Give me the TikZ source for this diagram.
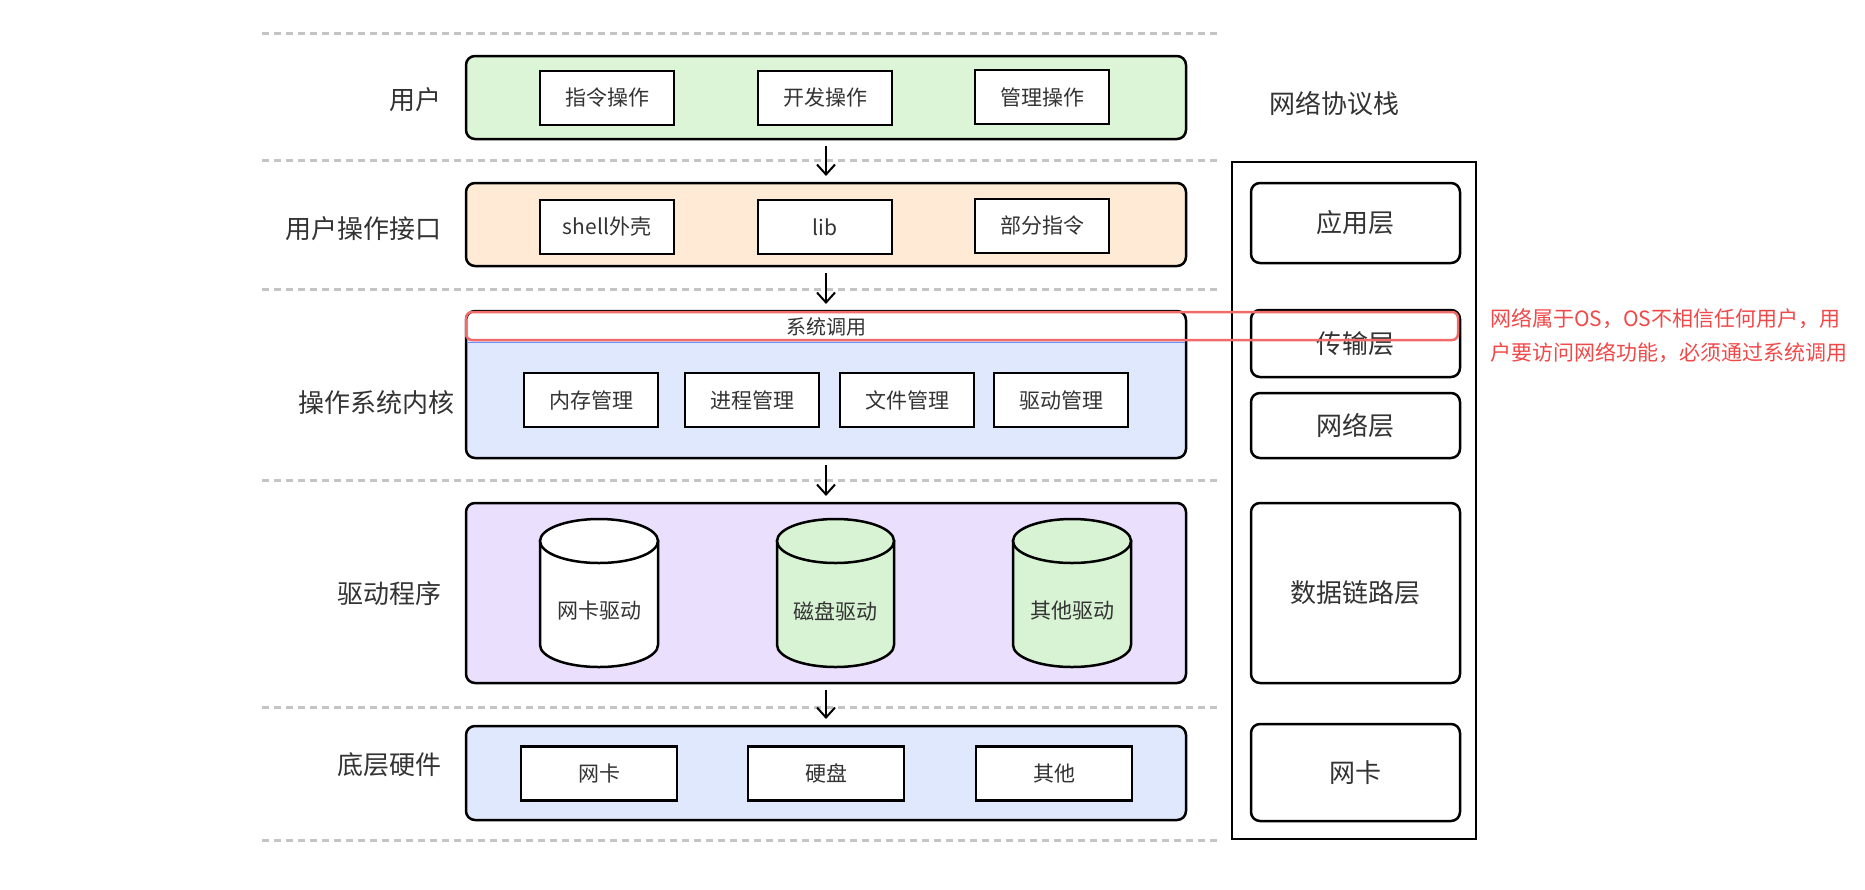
\documentclass[tikz,border=0pt]{standalone}
\usepackage{fontspec}
\setmainfont{Noto Sans CJK SC}
\usetikzlibrary{arrows.meta}
\definecolor{usergreen}{HTML}{DBF5D6}
\definecolor{ifaceorange}{HTML}{FEEAD5}
\definecolor{kernelblue}{HTML}{E0E8FD}
\definecolor{drvpurple}{HTML}{EADFFC}
\definecolor{cylgreen}{HTML}{D8F3D3}
\definecolor{textgray}{HTML}{333333}
\definecolor{rulegray}{HTML}{C4C4C4}
\definecolor{notered}{HTML}{F04848}
\definecolor{markred}{HTML}{F26B6B}
\definecolor{selblue}{HTML}{6C8EF5}
\begin{document}
\begin{tikzpicture}[x=1pt,y=-1pt,
  layerbox/.style={draw=black, line width=2.5pt, rounded corners=9pt, minimum width=720pt, inner sep=0pt, outer sep=0pt},
  inbox/.style={draw=black, fill=white, line width=2.5pt, inner sep=0pt, outer sep=0pt, minimum height=54pt, minimum width=134pt, font=\fontsize{21}{24}\selectfont, text=textgray},
  lbl/.style={anchor=east, inner sep=0pt, font=\fontsize{26}{30}\selectfont, text=textgray},
  stackbox/.style={draw=black, fill=white, line width=2.5pt, rounded corners=9pt, minimum width=209pt, inner sep=0pt, outer sep=0pt, font=\fontsize{26}{30}\selectfont, text=textgray},
  flow/.style={-{Straight Barb[length=10pt,width=18pt]}, line width=2pt, shorten <=7pt, shorten >=7pt},
  rule/.style={draw=rulegray, line width=3pt, dash pattern=on 7pt off 5pt},
  cylbody/.style={draw=black, line width=2.5pt},
  cyltext/.style={inner sep=0pt, font=\fontsize{21}{24}\selectfont, text=textgray}
]
\useasboundingbox (0,0) rectangle (1865,889);

% dashed separators
\foreach \yy in {33,160,289,480,707,840}{
  \draw[rule] (262,\yy) -- (1220,\yy);
}

% layer boxes
\node (user) [layerbox, fill=usergreen, minimum height=83pt] at (826,97.5) {};
\node (iface) [layerbox, fill=ifaceorange, minimum height=83pt] at (826,224.5) {};
\node (kernel) [layerbox, fill=kernelblue, minimum height=147pt,
  path picture={\fill[white] (path picture bounding box.north west) rectangle ([yshift=-30pt]path picture bounding box.north east);}] at (826,384.5) {};
\node (driver) [layerbox, fill=drvpurple, minimum height=180pt] at (826,593) {};
\node (hw) [layerbox, fill=kernelblue, minimum height=94pt] at (826,773) {};

% left labels
\node (luser) [lbl] at (442,100) {用户};
\node (liface) [lbl] at (442,229) {用户操作接口};
\node (lkernel) [lbl] at (455,403) {操作系统内核};
\node (ldriver) [lbl] at (442,594) {驱动程序};
\node (lhw) [lbl] at (442,765) {底层硬件};

% user row
\node (u1) [inbox] at (607,98) {指令操作};
\node (u2) [inbox] at (825,98) {开发操作};
\node (u3) [inbox] at (1042,97) {管理操作};

% interface row
\node (i1) [inbox] at (607,227) {shell外壳};
\node (i2) [inbox] at (825,227) {lib};
\node (i3) [inbox] at (1042,226) {部分指令};

% kernel
\draw[selblue, line width=1.6pt] ([xshift=1.5pt,yshift=-31.5pt]kernel.north west) -- ([xshift=-1.5pt,yshift=-31.5pt]kernel.north east);
\node (sysbar) [inner sep=0pt, font=\fontsize{20}{24}\selectfont, text=textgray] at (826,327) {系统调用};
\node (k1) [inbox] at (591,400) {内存管理};
\node (k2) [inbox] at (752,400) {进程管理};
\node (k3) [inbox] at (907,400) {文件管理};
\node (k4) [inbox] at (1061,400) {驱动管理};

% driver cylinders
\filldraw[cylbody, fill=white] (540,541) -- (540,645) arc[start angle=180, end angle=360, x radius=59pt, y radius=22pt] -- (658,541) -- cycle;
\filldraw[cylbody, fill=white] (599,541) ellipse [x radius=59pt, y radius=22pt];
\node (c1) [cyltext] at (599,611) {网卡驱动};

\filldraw[cylbody, fill=cylgreen] (777,541) -- (777,645) arc[start angle=180, end angle=360, x radius=58.5pt, y radius=22pt] -- (894,541) -- cycle;
\filldraw[cylbody, fill=cylgreen] (835.5,541) ellipse [x radius=58.5pt, y radius=22pt];
\node (c2) [cyltext] at (835.5,611) {磁盘驱动};

\filldraw[cylbody, fill=cylgreen] (1013,541) -- (1013,645) arc[start angle=180, end angle=360, x radius=59pt, y radius=22pt] -- (1131,541) -- cycle;
\filldraw[cylbody, fill=cylgreen] (1072,541) ellipse [x radius=59pt, y radius=22pt];
\node (c3) [cyltext] at (1072,611) {其他驱动};

% hardware row
\node (h1) [inbox, minimum width=156pt] at (599,773.5) {网卡};
\node (h2) [inbox, minimum width=156pt] at (826,773.5) {硬盘};
\node (h3) [inbox, minimum width=156pt] at (1054,773.5) {其他};

% arrows
\draw[flow] (user) -- (iface);
\draw[flow] (iface) -- (kernel);
\draw[flow] (kernel) -- (driver);
\draw[flow] (driver) -- (hw);

% network stack
\node (stacktitle) [inner sep=0pt, font=\fontsize{26}{30}\selectfont, text=textgray] at (1334,104) {网络协议栈};
\node (stack) [draw=black, line width=2.5pt, minimum width=244pt, minimum height=677pt, inner sep=0pt] at (1354,500.5) {};
\node (s1) [stackbox, minimum height=80pt] at (1355.5,223) {应用层};
\node (s2) [stackbox, minimum height=67pt] at (1355.5,343.5) {\raisebox{-6pt}{传输层}};
\node (s3) [stackbox, minimum height=65pt] at (1355.5,425.5) {网络层};
\node (s4) [stackbox, minimum height=180pt] at (1355.5,593) {数据链路层};
\node (s5) [stackbox, minimum height=97pt] at (1355.5,772.5) {网卡};

% red highlight and note
\node (sysmark) [draw=markred, line width=2.5pt, rounded corners=6pt, minimum width=992pt, minimum height=28pt, inner sep=0pt] at (962,326) {};
\node (note) [anchor=west, inner sep=0pt, align=left, text=notered, font=\fontsize{21}{34}\selectfont] at (1490,336) {网络属于OS，OS不相信任何用户，用\\户要访问网络功能，必须通过系统调用};
\end{tikzpicture}
\end{document}
